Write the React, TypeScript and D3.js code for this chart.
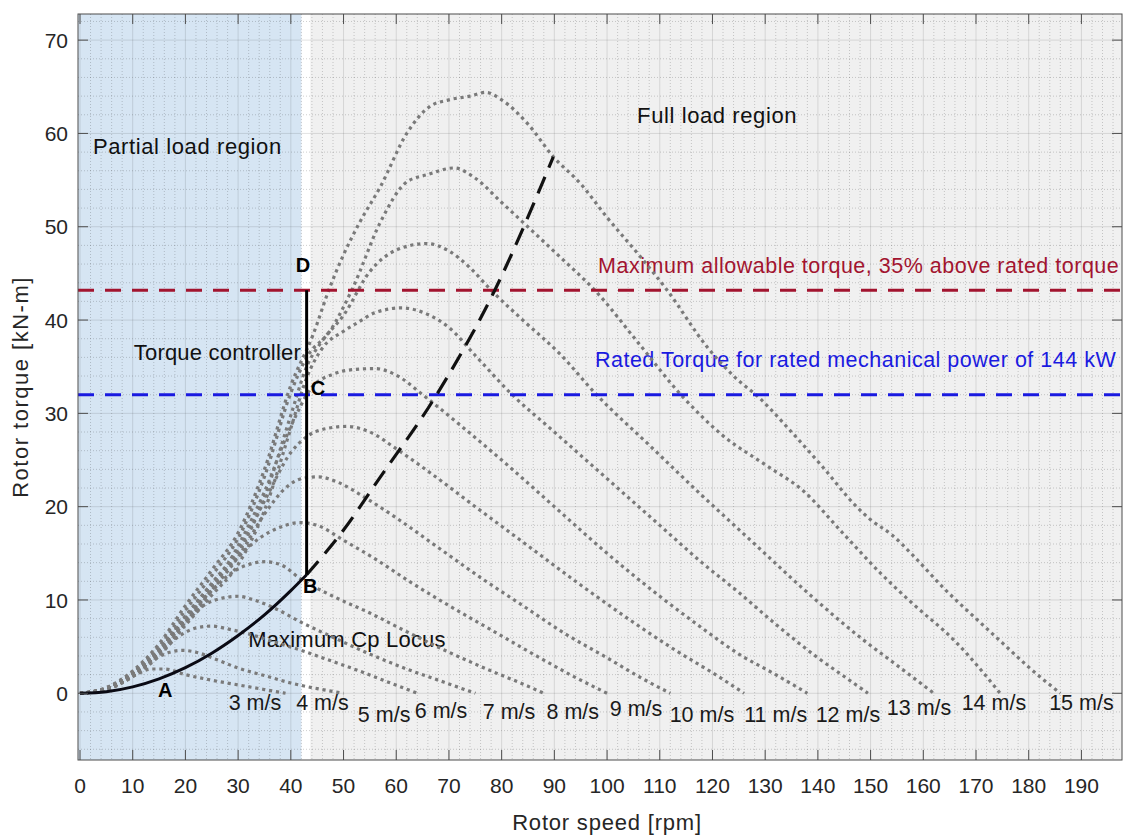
import * as d3 from "d3";

// rotor speed [rpm] / torque [kN-m]
const windSpeeds = [3, 4, 5, 6, 7, 8, 9, 10, 11, 12, 13, 14, 15];

const torqueCurves: [number, number][][] = [
  [[0,0],[4,0.35],[8,1.2],[11,2.1],[13.5,2.6],[16,2.6],[20,2.0],[25,1.4],[30,0.9],[35,0.4],[39,0]],
  [[0,0],[5,0.5],[10,1.9],[14,3.6],[17,4.4],[19.5,4.6],[22,4.4],[26,3.6],[30,2.7],[35,1.9],[40,1.1],[45,0.5],[50,0]],
  [[0,0],[5,0.5],[10,2],[15,4.3],[19,6.2],[22,7],[25,7.2],[28,6.9],[33,6.2],[38,5.3],[42,4.6],[47,3.6],[52,2.6],[58,1.3],[64,0]],
  [[0,0],[5,0.5],[10,2.1],[15,4.6],[20,7.6],[24,9.6],[27,10.2],[30,10.4],[33,10],[37,9.1],[42,7.6],[48,6],[55,4.2],[62,2.6],[69,1.2],[75,0]],
  [[0,0],[5,0.6],[10,2.2],[15,4.7],[20,8],[25,11],[29,13],[32,13.8],[35,14.1],[38,13.8],[42,12.2],[48,10.4],[55,8.6],[62,6.6],[70,4.4],[78,2.4],[84,1],[88,0]],
  [[0,0],[5,0.5],[10,2],[15,4.5],[20,8.2],[25,11.6],[30,14.6],[34,16.6],[38,17.8],[41.7,18.3],[45,18],[50,16.4],[56,14.4],[63,11.8],[70,9.4],[78,6.8],[86,4.2],[93,2],[100,0]],
  [[0,0],[5,0.4],[10,1.8],[15,4.2],[20,7.6],[25,11],[30,14.6],[35,19.2],[39,22],[42,23],[45.2,23.2],[49,22.6],[54,21],[60,18.8],[68,15.6],[76,12.4],[84,9.4],[92,6.4],[100,3.8],[106,1.8],[112,0]],
  [[0,0],[5,0.5],[10,2],[15,4.6],[20,8.3],[25,11.8],[30,15.4],[35,20.6],[40,25.8],[43,27.5],[47,28.4],[50.6,28.6],[55,28],[60,26.2],[67,23.4],[75,20],[85,15.8],[95,11.6],[105,7.6],[113,4.6],[120,2.2],[126,0]],
  [[0,0],[5,0.5],[10,2.1],[15,4.4],[20,7.8],[25,11.2],[30,15.8],[35,21.6],[40,28.6],[44,32.8],[48,34.2],[52,34.7],[56,34.8],[60,34.1],[65,32],[72,28.8],[80,25],[90,20],[100,15],[110,10.4],[118,7],[125,4.2],[132,2],[138,0]],
  [[0,0],[5,0.4],[10,1.8],[15,4],[20,7.3],[25,10.5],[30,13.8],[35,19.6],[40,28.4],[43,33.8],[46,37],[50,38.8],[52.6,39.7],[56,40.8],[61,41.3],[66,40.6],[70,39.2],[75,36.2],[82,32],[90,28],[100,23],[110,18],[118,14],[125,10.8],[132,7.4],[140,3.8],[145,1.8],[149.5,0]],
  [[0,0],[5,0.5],[10,2],[15,4.5],[20,8.1],[25,11.6],[30,15],[35,21],[40,29.8],[43,35],[46,37.8],[50,40.5],[55,45.2],[60,47.5],[65.8,48.2],[70,47.4],[74,45.6],[78,43.2],[84,40],[91,36.4],[98,32],[108,26.6],[118,21.2],[128,16],[138,10.8],[148,6],[155,3],[162,0]],
  [[0,0],[5,0.5],[10,2.2],[15,5],[20,8.9],[25,12.6],[30,16.6],[35,23.2],[40,32.2],[43,36],[47.4,38.8],[51.8,43.5],[57,50.5],[62,54.8],[66,55.6],[71,56.3],[75,55.2],[80,52.6],[84,50.5],[91,46.8],[98,43],[106,37.5],[114,32],[122,27.6],[130,24.5],[137,21.8],[145,17],[152,12.8],[158,9.6],[166,5.6],[174.6,0]],
  [[0,0],[5,0.6],[10,2.4],[15,5.3],[20,9.4],[25,13.2],[30,17.2],[35,24],[40,33],[44.2,38.4],[47.4,43.5],[50,47],[53,50.4],[57,54.3],[62,60],[66.4,62.9],[70,63.6],[74,64],[77,64.4],[80,63.6],[85,61],[89.8,57.5],[95,54.6],[100,51],[106.3,46.8],[111.4,43.2],[119,37.1],[124,34],[129,31.6],[135,28],[141,24.2],[147,20.2],[150,18.6],[154,17],[158,14.8],[164,11.2],[170,8],[175,5.4],[180,2.8],[186,0]],
];

// where each "x m/s" label sits (rpm, kN-m)
const speedLabelAt: [number, number][] = [
  [33.2,-1.0],[46,-1.0],[57.7,-2.2],[68.5,-1.8],[81.4,-1.9],[93.5,-1.9],[105.5,-1.6],
  [118,-2.3],[132,-2.2],[145.7,-2.3],[159.2,-1.5],[173.4,-1.0],[190,-1.0],
];

const cpLocus: [number, number][] = [[0,0],[5,0.17],[10,0.69],[15,1.55],[20,2.75],[25,4.3],[30,6.2],[35,8.4],[40,11],[43,12.7]];
const cpLocusExt: [number, number][] = [[43,12.7],[50,17.5],[57,23.2],[67,31.4],[78.7,43.2],[89.8,57.5]];

const ratedTorque = 32;
const maxTorque = 43.2;
const controllerRpm = 43;
const partialLoadEnd = 42;
const fullLoadStart = 43.7;

const xTicks = d3.range(0, 200, 10);
const yTicks = d3.range(0, 80, 10);
const xMinor = d3.range(0, 198, 2).filter((v) => v % 10 !== 0);
const yMinor = d3.range(-6, 73, 2).filter((v) => v % 10 !== 0);

const W = 1124;
const H = 835;
const L = 78, R = 1122, T = 14, B = 760;

const x = d3.scaleLinear().domain([-0.38, 197.7]).range([L, R]);
const y = d3.scaleLinear().domain([-7.15, 72.8]).range([B, T]);

const font = "'Liberation Sans', Arial, Helvetica, sans-serif";
const axisColor = "#4d4d4d";
const maroon = "#A2142F";
const blue = "#1a1ae0";

const line = d3.line<[number, number]>().x((d) => x(d[0])).y((d) => y(d[1])).curve(d3.curveMonotoneX);

export default function App() {
  const tick = 10;
  return (
    <svg width={W} height={H} style={{ position: "absolute", left: 0, top: 0, background: "#fff" }} fontFamily={font}>
      <defs>
        <clipPath id="plotClip">
          <rect x={L} y={T} width={R - L} height={B - T} />
        </clipPath>
      </defs>

      {/* region backgrounds */}
      <rect x={L} y={T} width={x(partialLoadEnd) - L} height={B - T} fill="#d6e5f3" />
      <rect x={x(fullLoadStart)} y={T} width={R - x(fullLoadStart)} height={B - T} fill="#f0f0f0" />

      {/* grid */}
      <g clipPath="url(#plotClip)">
        {xMinor.map((v) => (
          <line key={"xm" + v} x1={x(v)} x2={x(v)} y1={T} y2={B} stroke="#262626" strokeOpacity={0.22} strokeDasharray="1,2" />
        ))}
        {yMinor.map((v) => (
          <line key={"ym" + v} x1={L} x2={R} y1={y(v)} y2={y(v)} stroke="#262626" strokeOpacity={0.22} strokeDasharray="1,2" />
        ))}
        {xTicks.map((v) => (
          <line key={"xg" + v} x1={x(v)} x2={x(v)} y1={T} y2={B} stroke="#262626" strokeOpacity={0.13} />
        ))}
        {yTicks.map((v) => (
          <line key={"yg" + v} x1={L} x2={R} y1={y(v)} y2={y(v)} stroke="#262626" strokeOpacity={0.13} />
        ))}
      </g>

      {/* annotations */}
      <g fontSize={22} fill="#111">
        <text x={x(2.47)} y={y(57.8)} letterSpacing={0.6}>Partial load region</text>
        <text x={x(105.7)} y={y(61.1)} letterSpacing={0.6}>Full load region</text>
        <text x={x(10.2)} y={y(35.7)} letterSpacing={0.2}>Torque controller</text>
        <text x={x(31.9)} y={y(4.96)} letterSpacing={0.2}>Maximum Cp Locus</text>
        <text x={x(98.3)} y={y(45.05)} fill={maroon} fontSize={21.5} letterSpacing={0.5}>Maximum allowable torque, 35% above rated torque</text>
        <text x={x(97.7)} y={y(35.0)} fill={blue} fontSize={21.5} letterSpacing={0.5}>Rated Torque for rated mechanical power of 144 kW</text>
      </g>

      {/* torque-speed curves per wind speed */}
      <g clipPath="url(#plotClip)" fill="none" stroke="#7a7a7a" strokeWidth={3.2} strokeDasharray="3.2,3.8">
        {torqueCurves.map((c, i) => (
          <path key={windSpeeds[i]} d={line(c) || ""} />
        ))}
      </g>

      <g fontSize={21.5} fill="#1a1a1a" textAnchor="middle">
        {windSpeeds.map((v, i) => (
          <text key={v} x={x(speedLabelAt[i][0])} y={y(speedLabelAt[i][1])} dy="0.36em">{`${v} m/s`}</text>
        ))}
      </g>

      {/* limits */}
      <line x1={L} x2={R} y1={y(maxTorque)} y2={y(maxTorque)} stroke={maroon} strokeWidth={3} strokeDasharray="16,11" />
      <line x1={L} x2={R} y1={y(ratedTorque)} y2={y(ratedTorque)} stroke={blue} strokeWidth={3} strokeDasharray="16,11" />

      {/* max Cp locus and torque controller */}
      <path d={line(cpLocus) || ""} fill="none" stroke="#0a0a14" strokeWidth={3} />
      <path d={line(cpLocusExt) || ""} fill="none" stroke="#111" strokeWidth={3.2} strokeDasharray="18,10" />
      <line x1={x(controllerRpm)} x2={x(controllerRpm)} y1={y(cpLocus[cpLocus.length - 1][1])} y2={y(maxTorque)} stroke="#000" strokeWidth={3} />

      <g fontSize={20} fontWeight="bold" fill="#000">
        <text x={x(42.3)} y={y(45.15)} textAnchor="middle">D</text>
        <text x={x(43.8)} y={y(32.0)}>C</text>
        <text x={x(42.3)} y={y(10.75)}>B</text>
        <text x={x(14.8)} y={y(-0.4)}>A</text>
      </g>

      {/* axes box and ticks */}
      <rect x={L} y={T} width={R - L} height={B - T} fill="none" stroke={axisColor} strokeWidth={1} />
      {xTicks.map((v) => (
        <g key={"xt" + v}>
          <line x1={x(v)} x2={x(v)} y1={B} y2={B - tick} stroke={axisColor} />
          <line x1={x(v)} x2={x(v)} y1={T} y2={T + tick} stroke={axisColor} />
          <text x={x(v)} y={793} textAnchor="middle" fontSize={21} fill="#262626">{v}</text>
        </g>
      ))}
      {yTicks.map((v) => (
        <g key={"yt" + v}>
          <line x1={L} x2={L + tick} y1={y(v)} y2={y(v)} stroke={axisColor} />
          <line x1={R} x2={R - tick} y1={y(v)} y2={y(v)} stroke={axisColor} />
          <text x={68} y={y(v)} dy="0.36em" textAnchor="end" fontSize={21} fill="#262626">{v}</text>
        </g>
      ))}

      <text x={(L + R) / 2 + 7} y={830} textAnchor="middle" fontSize={22} fill="#262626" letterSpacing={0.8}>Rotor speed [rpm]</text>
      <text transform={`translate(28, ${(T + B) / 2}) rotate(-90)`} textAnchor="middle" fontSize={22} fill="#262626" letterSpacing={1.5}>Rotor torque [kN-m]</text>
    </svg>
  );
}
